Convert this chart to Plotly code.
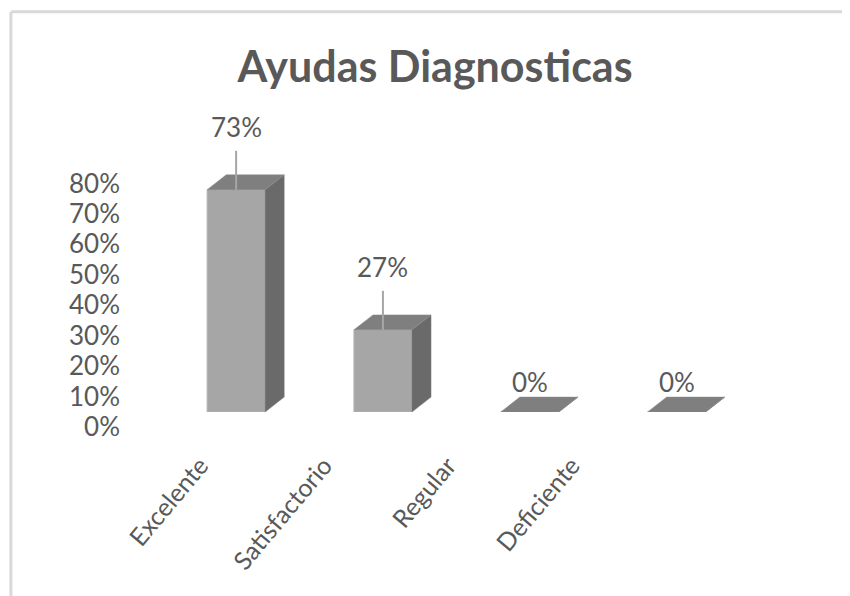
import plotly.graph_objects as go

# datos
categorias = ["Excelente", "Satisfactorio", "Regular", "Deficiente"]
porcentajes = [0.73, 0.27, 0.0, 0.0]
etiquetas = ["73%", "27%", "0%", "0%"]
ticks_y = [0, 0.1, 0.2, 0.3, 0.4, 0.5, 0.6, 0.7, 0.8]

# el body de la pagina tiene 8px de margen: la figura se reduce para caber
OFF = 8
W, H = 850 - OFF, 596 - OFF
ML, MR, MT, MB = 125.75 - OFF, 99.5, 137.5 - OFF, 184
x_range = [-0.75, 3.5]
y_range = [0, 0.9]

ancho = 0.395   # ancho de la cara frontal (unidades de categoria)
dx = 0.13       # profundidad 3D en x
dy = 0.049      # profundidad 3D en y

gris_txt = "#595959"
fuente = "Lato"

xs = list(range(len(categorias)))

lado_x, lado_y, tapa_x, tapa_y = [], [], [], []
for i, v in zip(xs, porcentajes):
    d = i + ancho / 2
    iz = i - ancho / 2
    lado_x += [d, d + dx, d + dx, d, d, None]
    lado_y += [0, dy, v + dy, v, 0, None]
    tapa_x += [iz, d, d + dx, iz + dx, iz, None]
    tapa_y += [v, v, v + dy, v + dy, v, None]

fig = go.Figure()

fig.add_trace(go.Bar(x=xs, y=porcentajes, width=ancho,
                     marker=dict(color="#a6a6a6", line=dict(color="#b4b4b4", width=1)),
                     hoverinfo="skip"))
fig.add_trace(go.Scatter(x=lado_x, y=lado_y, fill="toself", fillcolor="#6a6a6a",
                         mode="lines", line=dict(color="#7a7a7a", width=0.5),
                         hoverinfo="skip"))
fig.add_trace(go.Scatter(x=tapa_x, y=tapa_y, fill="toself", fillcolor="#7f7f7f",
                         mode="lines", line=dict(color="#8a8a8a", width=0.5),
                         hoverinfo="skip"))

# lineas guia de las etiquetas
guia_x, guia_y = [], []
for i, v in zip(xs, porcentajes):
    if v > 0:
        guia_x += [i, i, None]
        guia_y += [v, v + 0.128, None]
fig.add_trace(go.Scatter(x=guia_x, y=guia_y, mode="lines",
                         line=dict(color="#a6a6a6", width=2), hoverinfo="skip"))

# eje auxiliar para las etiquetas de categoria
fig.add_trace(go.Scatter(x=xs, y=[0] * len(xs), xaxis="x2", mode="markers",
                         marker=dict(opacity=0), hoverinfo="skip"))

for i, v, t in zip(xs, porcentajes, etiquetas):
    fig.add_annotation(x=i, y=v, text=t, showarrow=False,
                       yshift=63 if v > 0 else 30, yanchor="middle",
                       font=dict(family=fuente, size=26, color=gris_txt))

# marco gris (coordenadas paper a partir de pixeles de la ventana)
pw = W - ML - MR
ph = H - MT - MB
def px_x(p):
    return (p - OFF - ML) / pw
def px_y(p):
    return (H - MB - (p - OFF)) / ph

fig.add_shape(type="line", xref="paper", yref="paper",
              x0=px_x(10.5), x1=px_x(900), y0=px_y(11), y1=px_y(11),
              line=dict(color="#d9d9d9", width=3))
fig.add_shape(type="line", xref="paper", yref="paper",
              x0=px_x(10.5), x1=px_x(10.5), y0=px_y(11), y1=px_y(650),
              line=dict(color="#d9d9d9", width=3))

fig.update_layout(
    width=W, height=H,
    margin=dict(l=ML, r=MR, t=MT, b=MB, pad=0),
    paper_bgcolor="white", plot_bgcolor="white",
    showlegend=False,
    title=dict(text="<b>Ayudas Diagnosticas</b>", x=(435 - OFF) / W, xanchor="center",
               xref="container",
               y=1 - (67 - OFF) / H, yanchor="middle", yref="container",
               font=dict(family=fuente, size=43, color=gris_txt)),
    xaxis=dict(range=x_range, showticklabels=False, showgrid=False,
               zeroline=False, showline=False, ticks=""),
    xaxis2=dict(range=[-0.599, 4.439], overlaying="x", anchor="y", side="bottom",
                tickmode="array", tickvals=xs, ticktext=categorias, tickangle=-50,
                showgrid=False, zeroline=False, showline=False, ticks="",
                ticklabelstandoff=33,
                tickfont=dict(family=fuente, size=25, color=gris_txt)),
    yaxis=dict(range=y_range, tickmode="array", tickvals=ticks_y, tickformat=".0%",
               showgrid=False, zeroline=False, showline=False, ticks="",
               ticklabelshift=15, ticklabelstandoff=5,
               tickfont=dict(family=fuente, size=26, color=gris_txt)),
)

fig.write_html("out.html")
